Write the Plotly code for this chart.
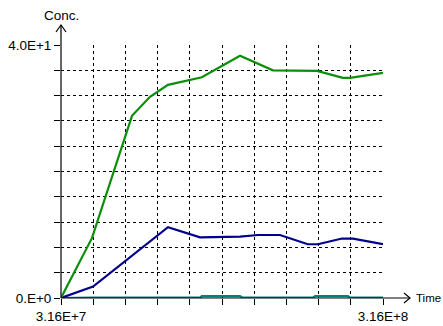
import plotly.graph_objects as go

# Simulation output: concentration against time (seconds)
t_start, t_end = 3.16e7, 3.16e8

green_time = [3.16e7, 5.90e7, 9.43e7, 1.102e8, 1.261e8, 1.394e8, 1.56e8,
              1.897e8, 2.188e8, 2.577e8, 2.806e8, 2.869e8, 3.16e8]
green_conc = [0.0, 9.5, 28.8, 31.8, 33.7, 34.2, 34.9,
              38.3, 36.0, 35.9, 34.8, 34.8, 35.6]

blue_time = [3.16e7, 5.99e7, 1.261e8, 1.544e8, 1.897e8, 2.056e8, 2.250e8,
             2.496e8, 2.585e8, 2.798e8, 2.895e8, 3.16e8]
blue_conc = [0.0, 1.8, 11.2, 9.6, 9.7, 9.96, 9.96,
             8.5, 8.5, 9.4, 9.4, 8.5]

teal_time = [3.16e7, 5.9e7, 1.544e8, 1.56e8, 1.897e8, 1.92e8,
             2.541e8, 2.56e8, 2.85e8, 2.87e8, 3.16e8]
teal_conc = [0.0, 0.05, 0.05, 0.3, 0.3, 0.05,
             0.05, 0.3, 0.3, 0.05, 0.05]

y_max = 40.0
n_div = 10
x_ticks = [t_start + i * (t_end - t_start) / n_div for i in range(n_div + 1)]
x_text = ["3.16E+7"] + [""] * (n_div - 1) + ["3.16E+8"]
y_ticks = [i * y_max / n_div for i in range(n_div + 1)]
y_text = ["0.E+0"] + [""] * (n_div - 1) + ["4.0E+1"]

FONT = dict(family="Liberation Sans, Arial, sans-serif", size=13.5, color="black")
FONT_SMALL = dict(family="Liberation Sans, Arial, sans-serif", size=11.5, color="black")

fig = go.Figure()
for t, c, col in [(teal_time, teal_conc, "#008080"),
                  (blue_time, blue_conc, "#00008b"),
                  (green_time, green_conc, "#0a8f0a")]:
    fig.add_trace(go.Scatter(x=t, y=c, mode="lines",
                             line=dict(color=col, width=2.2),
                             showlegend=False, hoverinfo="skip"))

axis_common = dict(
    showgrid=True, gridcolor="black", gridwidth=1, griddash="3px,3px",
    zeroline=False, showline=False, ticks="outside", ticklen=6,
    tickcolor="black", tickwidth=1, tickfont=FONT, automargin=False,
    tickmode="array",
)

fig.update_xaxes(range=[t_start, t_end], tickvals=x_ticks, ticktext=x_text,
                 **axis_common)
fig.update_yaxes(range=[0, y_max], tickvals=y_ticks, ticktext=y_text,
                 **axis_common)

# Axis lines with open arrow heads, in paper coordinates
W, H = 322.0, 253.0
line_style = dict(color="black", width=1.2)
shapes = [
    dict(type="line", xref="paper", yref="paper", x0=0, y0=0,
         x1=349 / W, y1=0, line=line_style),
    dict(type="path", xref="paper", yref="paper",
         path=f"M {343 / W} {5 / H} L {349 / W} 0 L {343 / W} {-5 / H}",
         line=line_style),
    dict(type="line", xref="paper", yref="paper", x0=0, y0=0,
         x1=0, y1=273 / H, line=line_style),
    dict(type="path", xref="paper", yref="paper",
         path=f"M {-5 / W} {266 / H} L 0 {273 / H} L {5 / W} {266 / H}",
         line=line_style),
]

annotations = [
    dict(text="Time", xref="paper", yref="paper", x=353 / W, y=0,
         xanchor="left", yanchor="middle", showarrow=False, font=FONT_SMALL),
    dict(text="Conc.", xref="paper", yref="paper", x=0, y=283 / H,
         xanchor="center", yanchor="middle", showarrow=False, font=FONT),
]

fig.update_layout(
    width=443, height=326,
    margin=dict(l=61, r=60, t=45, b=28, pad=0),
    paper_bgcolor="white", plot_bgcolor="white",
    shapes=shapes, annotations=annotations,
    showlegend=False,
)

fig.write_html("out.html")
